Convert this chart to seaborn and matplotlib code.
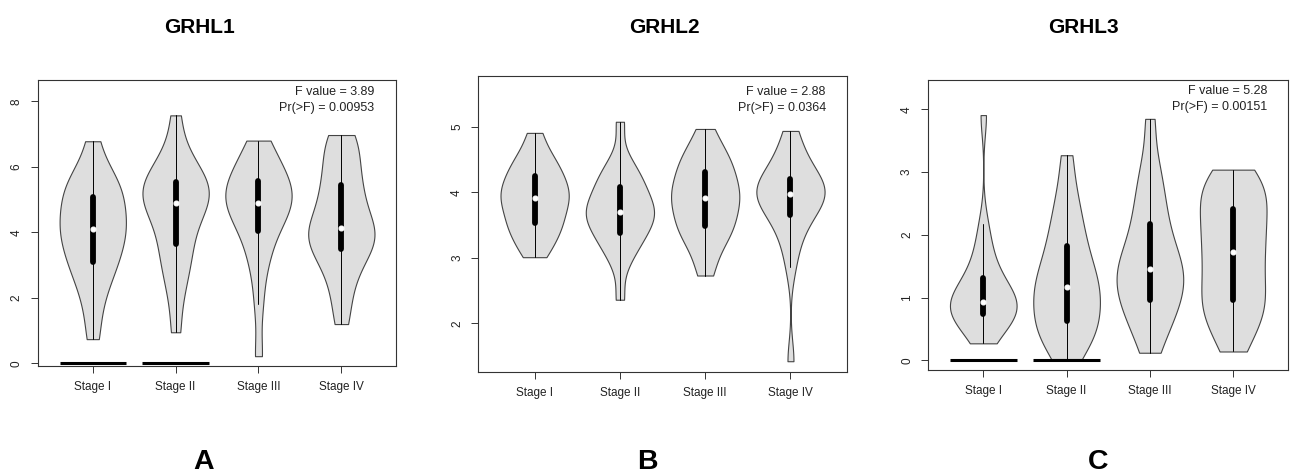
import matplotlib
matplotlib.use('Agg')
import matplotlib.pyplot as plt
import seaborn as sns
import pandas as pd

# Expression values per stage (min, quartiles, max)
stages = ['Stage I', 'Stage II', 'Stage III', 'Stage IV']

grhl1 = [
    [0.74, 1.6, 2.2, 2.6, 2.9, 3.09, 3.35, 3.6, 3.8, 3.95, 4.10, 4.3, 4.5, 4.7, 4.9, 5.09, 5.3, 5.5, 5.7, 5.95, 6.78],
    [0.95, 2.0, 2.6, 3.0, 3.35, 3.63, 4.0, 4.3, 4.55, 4.75, 4.90, 5.05, 5.2, 5.3, 5.42, 5.53, 5.7, 5.9, 6.2, 6.6, 7.57],
    [0.22, 1.8, 2.8, 3.3, 3.7, 4.05, 4.3, 4.5, 4.65, 4.8, 4.90, 5.05, 5.2, 5.3, 5.45, 5.58, 5.75, 5.95, 6.2, 6.5, 6.8],
    [1.2, 1.9, 2.5, 2.9, 3.2, 3.48, 3.65, 3.8, 3.9, 4.0, 4.12, 4.35, 4.6, 4.9, 5.2, 5.43, 5.7, 6.1, 6.5, 6.8, 6.97],
]
grhl2 = [
    [3.01, 3.15, 3.28, 3.38, 3.46, 3.53, 3.62, 3.7, 3.78, 3.85, 3.91, 3.97, 4.03, 4.1, 4.17, 4.25, 4.33, 4.42, 4.52, 4.65, 4.91],
    [2.36, 2.9, 3.1, 3.22, 3.3, 3.38, 3.48, 3.56, 3.62, 3.66, 3.70, 3.75, 3.82, 3.9, 3.98, 4.08, 4.15, 4.25, 4.35, 4.5, 5.08],
    [2.73, 3.0, 3.2, 3.32, 3.42, 3.48, 3.58, 3.68, 3.76, 3.84, 3.91, 3.98, 4.05, 4.13, 4.22, 4.31, 4.4, 4.5, 4.6, 4.72, 4.97],
    [1.42, 2.86, 3.2, 3.4, 3.55, 3.66, 3.76, 3.84, 3.9, 3.94, 3.98, 4.02, 4.06, 4.1, 4.15, 4.20, 4.3, 4.42, 4.55, 4.72, 4.94],
]
grhl3 = [
    [0.27, 0.45, 0.55, 0.62, 0.68, 0.73, 0.78, 0.83, 0.87, 0.9, 0.93, 0.98, 1.05, 1.12, 1.2, 1.31, 1.45, 1.62, 1.85, 2.17, 3.91],
    [0.02, 0.2, 0.35, 0.45, 0.55, 0.63, 0.75, 0.88, 0.98, 1.08, 1.17, 1.27, 1.38, 1.5, 1.65, 1.83, 2.0, 2.2, 2.45, 2.75, 3.27],
    [0.12, 0.4, 0.6, 0.75, 0.87, 0.96, 1.08, 1.2, 1.3, 1.38, 1.46, 1.55, 1.66, 1.8, 1.98, 2.18, 2.35, 2.6, 2.85, 3.15, 3.85],
    [0.14, 0.4, 0.6, 0.75, 0.86, 0.96, 1.12, 1.28, 1.42, 1.57, 1.72, 1.86, 2.0, 2.13, 2.28, 2.42, 2.55, 2.68, 2.8, 2.92, 3.04],
]

genes = ['GRHL1', 'GRHL2', 'GRHL3']
panel_letters = ['A', 'B', 'C']
f_values = ['3.89', '2.88', '5.28']
p_values = ['0.00953', '0.0364', '0.00151']
# stages drawn with a flat bar at zero
zero_bars = [['Stage I', 'Stage II'], [], ['Stage I', 'Stage II']]
yticks = [[0, 2, 4, 6, 8], [2, 3, 4, 5], [0, 1, 2, 3, 4]]

sns.set_style('ticks')
plt.rcParams['font.family'] = ['Liberation Sans', 'DejaVu Sans']
plt.rcParams['text.color'] = 'black'

FILL = '#DEDEDE'
EDGE = '#444444'

fig = plt.figure(figsize=(12.9, 4.73), dpi=100)

# axes rectangles (left, bottom, width, height) and y limits per panel
rects = [(0.0295, 0.2262, 0.2775, 0.6047),
         (0.3708, 0.2142, 0.2856, 0.6252),
         (0.7196, 0.2178, 0.2790, 0.6131)]
ylims = [(-0.08, 8.65), (1.26, 5.78), (-0.155, 4.47)]
text_pos = [(0.9385, 0.959, 0.903), (0.943, 0.945, 0.891), (0.943, 0.962, 0.907)]
title_x = [0.1548, 0.5151, 0.8402]
letter_x = [0.1581, 0.5016, 0.8512]

for k, values in enumerate([grhl1, grhl2, grhl3]):
    ax = fig.add_axes(rects[k])
    df = pd.DataFrame({
        'stage': [s for s, v in zip(stages, values) for _ in v],
        'expr': [x for v in values for x in v],
    })
    sns.violinplot(data=df, x='stage', y='expr', order=stages, ax=ax,
                   color=FILL, saturation=1, linecolor=EDGE, linewidth=0.8,
                   cut=0, density_norm='width', width=0.8, bw_adjust=0.75,
                   inner='box',
                   inner_kws=dict(box_width=4.2, whis_width=0.7, marker='o', color='black'))

    for s in zero_bars[k]:
        i = stages.index(s)
        ax.hlines(0, i - 0.4, i + 0.4, color='black', lw=2.2, zorder=3)

    ax.set_xlim(-0.66, len(stages) - 0.34)
    ax.set_ylim(*ylims[k])
    ax.set_yticks(yticks[k])
    ax.set_xlabel('')
    ax.set_ylabel('')
    for sp in ax.spines.values():
        sp.set_visible(True)
        sp.set_color('#333333')
        sp.set_linewidth(0.8)
    ax.tick_params(direction='out', length=5, width=0.7, color='#333333',
                   labelsize=8.5, labelcolor='#222222', pad=6)
    ax.tick_params(axis='y', labelrotation=90)
    for lbl in ax.get_yticklabels():
        lbl.set_va('center')

    tx, ty1, ty2 = text_pos[k]
    ax.text(tx, ty1, f'F value = {f_values[k]}', transform=ax.transAxes,
            ha='right', va='center', fontsize=9, color='#222222')
    ax.text(tx, ty2, f'Pr(>F) = {p_values[k]}', transform=ax.transAxes,
            ha='right', va='center', fontsize=9, color='#222222')

    fig.text(title_x[k], 0.9296, genes[k], ha='center', va='baseline',
             fontsize=15, fontweight='bold', color='black')
    fig.text(letter_x[k], 0.0074, panel_letters[k], ha='center', va='baseline',
             fontsize=20.5, fontweight='bold', color='black')

fig.savefig('out.png', dpi=100)
